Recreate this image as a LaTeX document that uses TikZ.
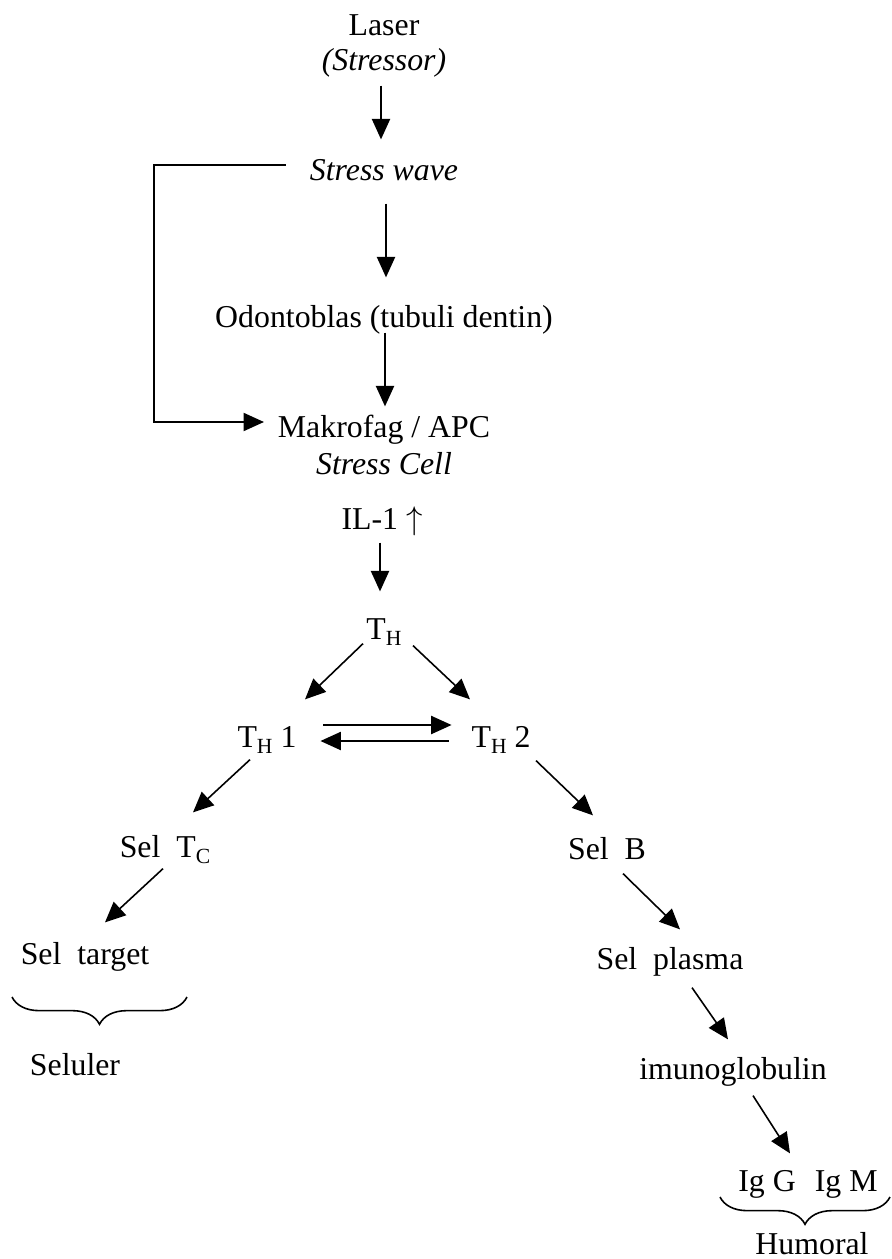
\documentclass[tikz,border=0pt]{standalone}
\usepackage{fontspec}
\setmainfont{Liberation Serif}
\usetikzlibrary{arrows.meta,calc,decorations.pathreplacing}
\newcommand\lowsub[1]{\raisebox{-0.45ex}{\fontsize{9.5}{10}\selectfont #1}}
\tikzset{
	lbl/.style={inner sep=2pt,text height=10pt,text depth=2pt,font=\fontsize{14}{16}\selectfont},
	arr/.style={->,line width=.7pt},
	brc/.style={decorate,decoration={brace,mirror,amplitude=12pt},line width=.7pt}
}
\begin{document}
\begin{tikzpicture}[>={Triangle[length=9pt,width=8pt]},x=.44pt,y=-.44pt]
	\useasboundingbox (0,0) rectangle (891,1259);
	% main column
	\node[lbl] (laser) at (384,26) {Laser};
	\node[lbl] (stressor) at (384,61) {\itshape (Stressor)};
	\node[lbl] (wave) at (384,171) {\itshape Stress wave};
	\node[lbl] (odonto) at (384,318) {Odontoblas (tubuli dentin)};
	\node[lbl] (makro) at (384,428) {Makrofag / APC};
	\node[lbl] (cell) at (384,465) {\itshape Stress Cell};
	\node[lbl] (il) at (382,520) {IL-1 $\uparrow$};
	\node[lbl] (th) at (384,630) {T\lowsub{H}};
	% helper branches
	\node[lbl] (th1) at (267,738) {T\lowsub{H} 1};
	\node[lbl] (th2) at (501,738) {T\lowsub{H} 2};
	\node[lbl] (seltc) at (165,848) {Sel\ \ T\lowsub{C}};
	\node[lbl] (seltarget) at (85,955) {Sel\ \ target};
	\node[lbl] (seluler) at (75,1066) {Seluler};
	\node[lbl] (selb) at (607,850) {Sel\ \ B};
	\node[lbl] (plasma) at (670,960) {Sel\ \ plasma};
	\node[lbl] (imuno) at (733,1070) {imunoglobulin};
	\node[lbl] (igg) at (808,1182) {Ig G\hspace{.6em}Ig M};
	\node[lbl] (humoral) at (812,1245) {Humoral};
	\coordinate (fb) at (154,300);
	% arrows
	\draw[arr] ($(stressor.south)+(-3,6)$) -- ($(wave.north)+(-3,-13)$);
	\draw[arr] ($(wave.south)+(2,14)$) -- ($(odonto.north)+(2,-22)$);
	\draw[arr] ($(odonto.south)+(1,-4)$) -- ($(makro.north)+(1,-3)$);
	\draw[arr] ($(wave.west)+(-19,-6)$) -| (fb) |- ($(makro.west)+(-9,-6)$);
	\draw[arr] ($(il.south)+(-2,4)$) -- ($(th.north)+(-4,-20)$);
	\draw[arr] ($(th.south)+(-21,-5)$) -- ($(th1.north)+(38,-20)$);
	\draw[arr] ($(th.south)+(29,-3)$) -- ($(th2.north)+(-31,-20)$);
	\draw[arr] ($(th1.east)+(22,-13)$) -- ($(th2.west)+(-15,-13)$);
	\draw[arr] ($(th2.west)+(-18,3)$) -- ($(th1.east)+(19,3)$);
	\draw[arr] ($(th1.south)+(-17,3)$) -- ($(seltc.north)+(28,-17)$);
	\draw[arr] ($(seltc.south)+(-2,2)$) -- ($(seltarget.north)+(20,-14)$);
	\draw[arr] ($(th2.south)+(35,4)$) -- ($(selb.north)+(-14,-16)$);
	\draw[arr] ($(selb.south)+(16,5)$) -- ($(plasma.north)+(10,-12)$);
	\draw[arr] ($(plasma.south)+(22,9)$) -- ($(imuno.north)+(-5,-12)$);
	\draw[arr] ($(imuno.south)+(20,7)$) -- ($(igg.north)+(-18,-10)$);
	% braces
	\draw[brc] (12,997) -- (187,997);
	\draw[brc] (720,1197) -- (890,1197);
\end{tikzpicture}
\end{document}
